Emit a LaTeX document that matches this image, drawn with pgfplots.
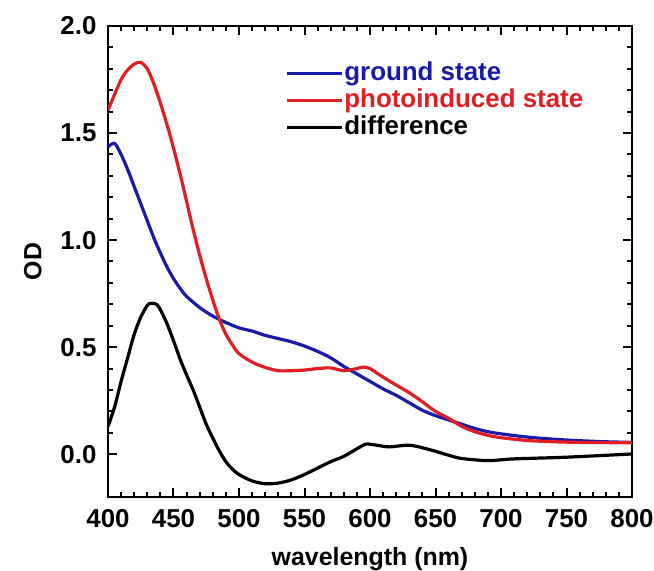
\documentclass[border=0pt]{standalone}
\usepackage{pgfplots}
\pgfplotsset{compat=1.18}
\usepackage{fontspec}
\setmainfont{Liberation Sans}
\definecolor{gblue}{RGB}{25,25,170}
\definecolor{pred}{RGB}{225,30,35}
\begin{document}
\begin{tikzpicture}
\useasboundingbox (-108bp,-74bp) rectangle (546bp,497bp);
\begin{axis}[
 at={(0,0)}, anchor=south west,
 scale only axis, width=524bp, height=471bp,
 xmin=400, xmax=800, ymin=-0.2, ymax=2.0,
 xtick={400,450,...,800}, ytick={0,0.5,1.0,1.5,2.0},
 minor x tick num=4, minor y tick num=4,
 xtick pos=both, ytick pos=both,
 tick align=inside,
 major tick length=9bp, minor tick length=5bp,
 every tick/.append style={black, line width=2bp},
 axis line style={line width=2.5bp},
 /pgf/number format/assume math mode=true,
 tick label style={font=\fontsize{26}{30}\selectfont\bfseries},
 xticklabel style={yshift=-9bp},
 yticklabel style={xshift=-8bp, /pgf/number format/fixed, /pgf/number format/fixed zerofill, /pgf/number format/precision=1},
 xlabel={wavelength (nm)},
 ylabel={OD},
 label style={font=\fontsize{25}{29}\selectfont\bfseries},
 xlabel style={yshift=-13bp},
 ylabel style={yshift=12bp},
 legend style={draw=none, fill=none, at={(rel axis cs:0.332,0.93)}, anchor=north west,
   font=\fontsize{26}{30}\selectfont\bfseries, row sep=2bp,
   nodes={inner sep=1bp, text height=18bp, text depth=5bp}},
 legend cell align=left,
 legend image code/.code={\draw[#1] (0bp,0bp) -- (55bp,0bp);},
 every axis plot/.append style={line width=3.2bp, smooth, tension=0.5},
]
\addplot[gblue] coordinates {
(400,1.435)(405,1.452)(410,1.40)(415,1.33)(420,1.25)(425,1.17)(430,1.09)(435,1.01)
(440,0.94)(445,0.875)(450,0.82)(455,0.775)(460,0.737)(470,0.685)(480,0.645)(490,0.615)
(500,0.59)(510,0.575)(520,0.555)(530,0.54)(540,0.525)(550,0.505)(560,0.48)(570,0.45)
(580,0.41)(590,0.375)(600,0.34)(610,0.305)(620,0.275)(630,0.24)(640,0.205)(650,0.18)
(660,0.16)(670,0.14)(680,0.12)(690,0.105)(700,0.095)(720,0.08)(740,0.07)(760,0.063)
(780,0.058)(800,0.055)};
\addlegendentry{\textcolor{gblue}{ground state}}
\addplot[pred] coordinates {
(400,1.607)(405,1.68)(410,1.75)(415,1.795)(420,1.822)(425,1.83)(430,1.80)(435,1.73)
(440,1.64)(445,1.54)(450,1.43)(455,1.31)(460,1.18)(465,1.05)(470,0.93)(475,0.82)
(480,0.72)(485,0.63)(490,0.56)(495,0.51)(500,0.47)(510,0.43)(520,0.405)(530,0.39)
(540,0.39)(550,0.393)(560,0.40)(570,0.403)(580,0.39)(590,0.40)(595,0.407)(600,0.40)
(605,0.38)(610,0.36)(618,0.33)(630,0.287)(640,0.245)(646,0.217)(650,0.2)(661,0.164)
(670,0.13)(680,0.105)(690,0.088)(700,0.077)(720,0.064)(740,0.058)(760,0.055)(780,0.054)(800,0.053)};
\addlegendentry{\textcolor{pred}{photoinduced state}}
\addplot[black] coordinates {
(400,0.13)(405,0.22)(410,0.34)(415,0.45)(420,0.56)(425,0.64)(430,0.695)(433,0.705)
(437,0.70)(440,0.675)(445,0.61)(450,0.53)(455,0.445)(460,0.37)(465,0.30)(470,0.22)
(475,0.14)(480,0.075)(485,0.015)(490,-0.035)(495,-0.07)(500,-0.095)(510,-0.125)
(520,-0.138)(530,-0.135)(540,-0.12)(550,-0.095)(560,-0.065)(570,-0.035)(580,-0.01)
(590,0.025)(597,0.047)(605,0.042)(615,0.034)(630,0.042)(645,0.022)(660,-0.005)
(670,-0.02)(690,-0.03)(710,-0.022)(750,-0.014)(800,0.001)};
\addlegendentry{difference}
\end{axis}
\end{tikzpicture}
\end{document}
